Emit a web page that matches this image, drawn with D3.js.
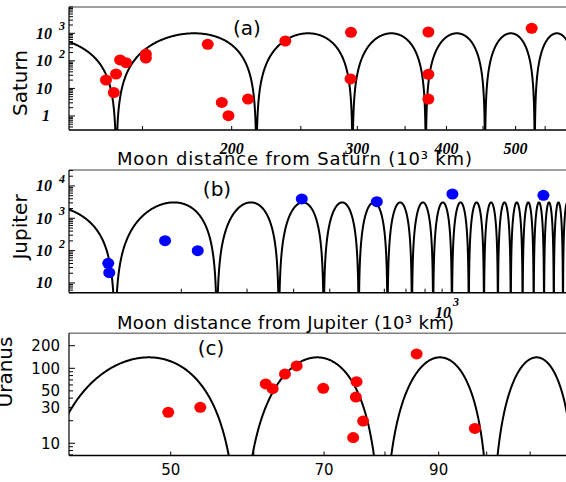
<!DOCTYPE html>
<html><head><meta charset="utf-8">
<script src="https://cdn.jsdelivr.net/npm/d3@7"></script>
<style>body{margin:0;background:#fff}svg{display:block}</style>
</head><body>
<svg id="c" width="566" height="482"></svg>
<script>
// ---------- DATA ----------
// Panel (a) Saturn
const saturnDist = [133.3,136.7,137.7,139.5,142.2,151.6,151.6,185.1,193.7,197.9,210.8,237.8,293.9,293.5,377.3,377.3,377.3,526.6];
const saturnVal  = [20.2,7.1,33.4,107.7,85.9,177,127,399,3.1,1.03,4.1,526,1087,22,1114,32.6,4.1,1517];
const saturnZeros = [59.0,137.8,216.6,295.4,374.2,453.0,531.8,610.6];
const saturnPeak = 1000;
const saturnXLabels = [200,300,400,500];
const saturnYLabels = [1,10,100,1000];
// Panel (b) Jupiter
const jupiterDist = [127.4,128.2,180.9,221.3,420.6,668.3,1065.6,1868.4];
const jupiterVal  = [40.6,20.8,203,99.6,3950,3260,5637,5142];
const jupiterZeros = [16.7,132.9,249.1,365.3,481.5,597.7,713.9,830.1,946.3,1062.5,1178.7,1294.9,1411.1,1527.3,1643.5,1759.7,1875.9,1992.1,2108.3,2224.5];
const jupiterPeak = 3100;
const jupiterXLabels = [1000];
const jupiterYLabels = [10,100,1000,10000];
// Panel (c) Uranus
const uranusDist = [49.73,53.35,61.59,62.53,64.24,65.91,69.87,75.16,75.05,76.26,74.61,85.75,97.44];
const uranusVal  = [25.9,30.2,61.8,53.5,83.9,107.4,54.1,66.2,41.4,19.8,11.9,155.3,15.8];
const uranusZeros = [37.0,58.3,79.6,100.9,122.2];
const uranusPeak = 140;
const uranusXTicks = [50,60,70,80,90,100,110];
const uranusXLabels = [50,70,90];
const uranusYLabels = [10,30,50,100,200];

// ---------- DRAW ----------
const svg = d3.select('#c');
const serif = '"Liberation Serif","DejaVu Serif",serif';
const sans = '"DejaVu Sans","Noto Sans",sans-serif';
const L = 69, R = 566;

function archPoints(zeros, peak, lo, hi){
  const pts = [];
  for (let k=0;k<zeros.length-1;k++){
    const a=zeros[k], b=zeros[k+1];
    if (b < lo*0.9 || a > hi*1.1) continue;
    const N=400;
    for (let i=0;i<=N;i++){
      const t=(1-Math.cos(Math.PI*i/N))/2;
      pts.push([a+(b-a)*t, peak*Math.pow(Math.sin(Math.PI*t),2)]);
    }
  }
  return pts;
}

function panel(cfg){
  const x = d3.scaleLog().domain(cfg.xDomain).range([L,R]);
  const y = d3.scaleLog().domain(cfg.yDomain).range([cfg.bottom,cfg.top]);
  const g = svg.append('g');
  const id = 'clip'+cfg.name;
  svg.append('clipPath').attr('id',id).append('rect')
    .attr('x',L).attr('y',cfg.top).attr('width',R-L).attr('height',cfg.bottom-cfg.top);
  const pts = archPoints(cfg.zeros, cfg.peak, cfg.xDomain[0], cfg.xDomain[1]);
  const ymin = cfg.yDomain[0];
  g.append('path').attr('clip-path',`url(#${id})`)
    .attr('d', d3.line().x(d=>x(d[0])).y(d=>y(Math.max(d[1], ymin*0.4)))(pts))
    .attr('fill','none').attr('stroke','#000').attr('stroke-width',2);
  g.selectAll('ellipse.d').data(cfg.dist.map((d,i)=>[d,cfg.val[i]])).enter()
    .append('ellipse').attr('cx',d=>x(d[0])).attr('cy',d=>y(d[1]))
    .attr('rx',6).attr('ry',5.5).attr('fill',cfg.color);
  g.append('line').attr('x1',L).attr('x2',R).attr('y1',cfg.top).attr('y2',cfg.top)
    .attr('stroke','#808080').attr('stroke-width',1.5);
  g.append('line').attr('x1',L).attr('x2',L).attr('y1',cfg.top).attr('y2',cfg.bottom)
    .attr('stroke','#000').attr('stroke-width',1.2);
  g.append('line').attr('x1',L).attr('x2',R).attr('y1',cfg.bottom).attr('y2',cfg.bottom)
    .attr('stroke','#000').attr('stroke-width',1.5);
  const yt = y.ticks();
  g.selectAll('line.yt').data(yt).enter().append('line')
    .attr('x1',L).attr('x2',d=>L+(Math.abs(Math.log10(d)-Math.round(Math.log10(d)))<1e-6||cfg.yMajor.includes(d)?6:4))
    .attr('y1',d=>y(d)).attr('y2',d=>y(d)).attr('stroke','#000').attr('stroke-width',1);
  const xt = cfg.xTicks || x.ticks();
  g.selectAll('line.xt').data(xt.filter(d=>x(d)>L+1&&x(d)<R)).enter().append('line')
    .attr('x1',d=>x(d)).attr('x2',d=>x(d)).attr('y1',cfg.bottom).attr('y2',cfg.bottom-4)
    .attr('stroke','#000').attr('stroke-width',1);
  return {x,y,g};
}

function powLabel(g, yy, v){
  const e = Math.round(Math.log10(v));
  if (e===0){
    g.append('text').attr('x',46).attr('y',yy+5.5).attr('text-anchor','middle')
      .attr('font-family',serif).attr('font-weight','bold').attr('font-style','italic')
      .attr('font-size',16).text('1');
    return;
  }
  g.append('text').attr('x',36).attr('y',yy+5.5)
    .attr('font-family',serif).attr('font-weight','bold').attr('font-style','italic')
    .attr('font-size',16).text('10');
  if (e>1) g.append('text').attr('x',59).attr('y',yy-3)
    .attr('font-family',serif).attr('font-weight','bold').attr('font-style','italic')
    .attr('font-size',12).text(String(e));
}

// Panel (a)
const pa = panel({name:'a', xDomain:[118.3,588.3], yDomain:[0.31,9000], top:7, bottom:130,
  dist:saturnDist, val:saturnVal, zeros:saturnZeros, peak:saturnPeak, color:'#ff0000', yMajor:[]});
saturnYLabels.forEach(v=>powLabel(pa.g, pa.y(v), v));
pa.g.selectAll('text.xl').data(saturnXLabels).enter().append('text')
  .attr('x',d=>pa.x(d)).attr('y',154).attr('text-anchor','middle')
  .attr('font-family',serif).attr('font-weight','bold').attr('font-style','italic')
  .attr('font-size',16).text(d=>d);

// Panel (b)
const pb = panel({name:'b', xDomain:[100,2148], yDomain:[5.0,31100], top:170, bottom:292.7,
  dist:jupiterDist, val:jupiterVal, zeros:jupiterZeros, peak:jupiterPeak, color:'#0000ff', yMajor:[]});
jupiterYLabels.forEach(v=>powLabel(pb.g, pb.y(v), v));
jupiterXLabels.forEach(v=>{
  const xx = pb.x(v);
  pb.g.append('text').attr('x',xx+1).attr('y',318).attr('text-anchor','middle')
    .attr('font-family',serif).attr('font-weight','bold').attr('font-style','italic')
    .attr('font-size',16).text('10');
  pb.g.append('text').attr('x',xx+11).attr('y',306)
    .attr('font-family',serif).attr('font-weight','bold').attr('font-style','italic')
    .attr('font-size',12).text('3');
});

// Panel (c)
const pc = panel({name:'c', xDomain:[40,119.0], yDomain:[6.87,293], top:333.3, bottom:455.5,
  dist:uranusDist, val:uranusVal, zeros:uranusZeros, peak:uranusPeak, color:'#ff0000', yMajor:[200], xTicks:uranusXTicks});
pc.g.selectAll('text.yl').data(uranusYLabels).enter().append('text')
  .attr('x',60).attr('y',d=>pc.y(d)+5.5).attr('text-anchor','end')
  .attr('font-family',sans).attr('font-size',15).text(d=>d);
pc.g.selectAll('text.xl').data(uranusXLabels).enter().append('text')
  .attr('x',d=>pc.x(d)).attr('y',475).attr('text-anchor','middle')
  .attr('font-family',sans).attr('font-size',15).text(d=>d);

// Axis titles
function t(x,y,s,size,rot,anchor){
  const e = svg.append('text').attr('font-family',sans).attr('font-size',size)
    .attr('text-anchor',anchor||'middle').text(s);
  if (rot) e.attr('transform',`translate(${x},${y}) rotate(${rot})`);
  else e.attr('x',x).attr('y',y);
  return e;
}
t(117,165,'Moon distance from Saturn (10³ km)',18,0,'start').attr('textLength',355).attr('lengthAdjust','spacing');
t(117,329,'Moon distance from Jupiter (10³ km)',18,0,'start').attr('textLength',337).attr('lengthAdjust','spacing');
t(27,83,'Saturn',20,-90);
t(27,227,'Jupiter',20,-90);
t(12,372,'Uranus',20,-90);
t(247,35,'(a)',20);
t(217,196,'(b)',20);
t(211,355,'(c)',20);
</script>
</body></html>
